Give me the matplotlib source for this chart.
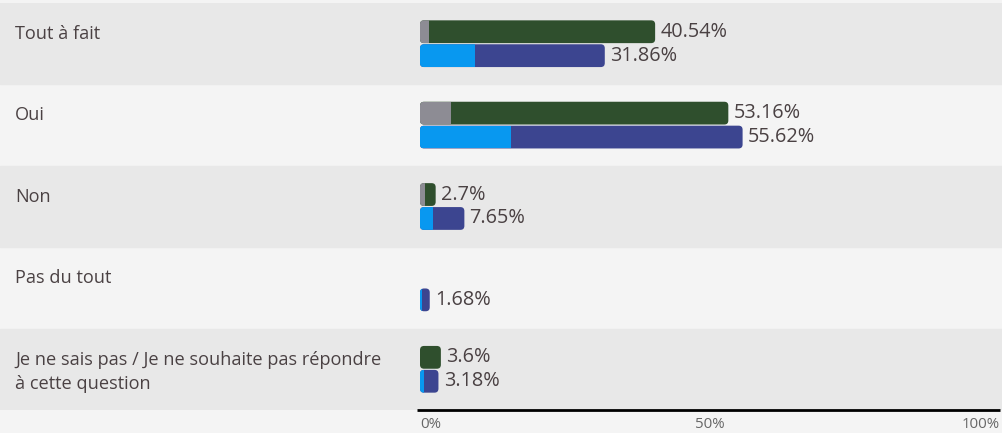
import numpy as np
import matplotlib.pyplot as plt
from matplotlib.patches import FancyBboxPatch, Rectangle

# data
categories = ["Tout à fait", "Oui", "Non", "Pas du tout",
              "Je ne sais pas / Je ne souhaite pas répondre\nà cette question"]
green_total = [40.54, 53.16, 2.7, 0.0, 3.6]
green_part = [1.6, 5.4, 0.8, 0.0, 0.0]      # gray inner segment
blue_total = [31.86, 55.62, 7.65, 1.68, 3.18]
blue_part = [9.5, 15.7, 2.2, 0.4, 0.7]      # light blue inner segment
ticks = [0, 50, 100]
tick_labels = ["0%", "50%", "100%"]

txt = "#4a4143"
plt.rcParams['font.family'] = ['Open Sans', 'DejaVu Sans']

fig = plt.figure(figsize=(10.03, 4.33), dpi=100)
fig.patch.set_facecolor("#f4f4f4")
# axes from pixel y=3 to y=410, full width
ax = fig.add_axes([0, 23 / 433, 1, 407 / 433])
ax.set_facecolor("#f4f4f4")

px = 5.8  # pixels per percent
ax.set_xlim(-420 / px, (1003 - 420) / px)
n = len(categories)
ax.set_ylim(n - 0.5, -0.5)
ypx = 407 / n  # pixels per category

y = np.arange(n)
for i in range(n):
    if i % 2 == 0:
        ax.axhspan(i - 0.5, i + 0.5, color="#e8e8e8", zorder=0)

h = 0.28
off = 0.147
gt = np.array(green_total)
gp = np.array(green_part)
bt = np.array(blue_total)
bp = np.array(blue_part)

rad = 4.0 / px  # corner radius in x units
asp = px / ypx


def rounded(bars, parts, light, dark):
    for r, p in zip(bars, parts):
        r.set_visible(False)
        if r.get_width() <= 0:
            continue
        xy = (r.get_x(), r.get_y())
        w, hh = r.get_width(), r.get_height()
        rr = min(rad, w / 2)
        full = FancyBboxPatch(xy, w, hh, boxstyle=f"round,pad=0,rounding_size={rr}",
                              mutation_aspect=asp, fc=dark, ec="none", zorder=2)
        ax.add_patch(full)
        if p > 0:
            inner = FancyBboxPatch(xy, w, hh, boxstyle=f"round,pad=0,rounding_size={rr}",
                                   mutation_aspect=asp, fc=light, ec="none", zorder=3)
            ax.add_patch(inner)
            clip = Rectangle((r.get_x() - 1, r.get_y()), p + 1, hh, transform=ax.transData)
            inner.set_clip_path(clip)


b1 = ax.barh(y - off, gt, height=h)
rounded(b1, gp, "#8d8c94", "#2f4f2d")
b2 = ax.barh(y + off, bt, height=h)
rounded(b2, bp, "#0898f0", "#3c4590")

for i in range(n):
    if gt[i] > 0:
        ax.text(gt[i] + 0.9, y[i] - off, f"{gt[i]:g}%", va="center", ha="left",
                fontsize=14.3, color=txt, fontweight="medium")
    if bt[i] > 0:
        ax.text(bt[i] + 0.9, y[i] + off, f"{bt[i]:g}%", va="center", ha="left",
                fontsize=14.3, color=txt, fontweight="medium")
    ax.text(15 / 1003, y[i] - 0.5 + 22 / ypx, categories[i], transform=ax.get_yaxis_transform(),
            va="top", ha="left", fontsize=13.1, color=txt, linespacing=1.45,
            fontweight="medium")
# axis line
ax.hlines(n - 0.5, -0.6, 100, color="black", lw=2, zorder=3, clip_on=False)

for s in ax.spines.values():
    s.set_visible(False)
ax.set_yticks([])
ax.set_xticks(ticks)
ax.set_xticklabels(tick_labels, fontsize=10.8, color="#666666")
ax.tick_params(axis="x", length=0, pad=5)
lbls = ax.get_xticklabels()
lbls[0].set_ha("left")
lbls[-1].set_ha("right")

fig.savefig("out.png", dpi=100, facecolor=fig.get_facecolor())
